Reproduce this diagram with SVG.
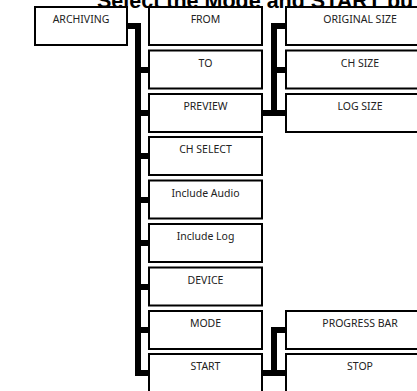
<svg xmlns="http://www.w3.org/2000/svg" width="417" height="391" viewBox="0 0 417 391">
<style>
.box{fill:#fff;stroke:#000;stroke-width:2}
.lbl{font-family:"Noto Sans","Liberation Sans",sans-serif;font-size:10.5px;fill:#222;text-anchor:middle}
.conn{fill:none;stroke:#000;stroke-width:6;stroke-linejoin:miter;stroke-linecap:butt}
.title{font-family:"Liberation Sans",Arial,sans-serif;font-size:21.5px;font-weight:bold;fill:#000}
</style>
<rect width="417" height="391" fill="#fff"/>
<text class="title" x="97" y="8">Select the Mode and START bu</text>
<g id="connectors">
<path class="conn" d="M127 26H138V373H148"/>
<path class="conn" d="M138 70H148M138 113H148M138 156H148M138 200H148M138 243H148M138 287H148M138 330H148"/>
<path class="conn" d="M262 113H274V26H286M274 70H286M274 113H286"/>
<path class="conn" d="M262 373H274V330H286M274 373H286"/>
</g>
<g id="archiving"><rect class="box" x="35" y="7" width="92" height="38"/><text class="lbl" x="81" y="23">ARCHIVING</text></g>
<g id="from"><rect class="box" x="149" y="7" width="113" height="38"/><text class="lbl" x="205.5" y="23">FROM</text></g>
<g id="to"><rect class="box" x="149" y="50.5" width="113" height="38"/><text class="lbl" x="205.5" y="66.5">TO</text></g>
<g id="preview"><rect class="box" x="149" y="94" width="113" height="38"/><text class="lbl" x="205.5" y="110">PREVIEW</text></g>
<g id="chselect"><rect class="box" x="149" y="137" width="113" height="38"/><text class="lbl" x="205.5" y="153">CH SELECT</text></g>
<g id="includeaudio"><rect class="box" x="149" y="180.5" width="113" height="38"/><text class="lbl" x="205.5" y="196.5">Include Audio</text></g>
<g id="includelog"><rect class="box" x="149" y="224" width="113" height="38"/><text class="lbl" x="205.5" y="240">Include Log</text></g>
<g id="device"><rect class="box" x="149" y="267.5" width="113" height="38"/><text class="lbl" x="205.5" y="283.5">DEVICE</text></g>
<g id="mode"><rect class="box" x="149" y="311" width="113" height="38"/><text class="lbl" x="205.5" y="327">MODE</text></g>
<g id="start"><rect class="box" x="149" y="354" width="113" height="38"/><text class="lbl" x="205.5" y="370">START</text></g>
<g id="originalsize"><rect class="box" x="286" y="7" width="148" height="38"/><text class="lbl" x="360" y="23">ORIGINAL SIZE</text></g>
<g id="chsize"><rect class="box" x="286" y="50.5" width="148" height="38"/><text class="lbl" x="360" y="66.5">CH SIZE</text></g>
<g id="logsize"><rect class="box" x="286" y="94" width="148" height="38"/><text class="lbl" x="360" y="110">LOG SIZE</text></g>
<g id="progressbar"><rect class="box" x="286" y="311" width="148" height="38"/><text class="lbl" x="360" y="327">PROGRESS BAR</text></g>
<g id="stop"><rect class="box" x="286" y="354" width="148" height="38"/><text class="lbl" x="360" y="370">STOP</text></g>
</svg>
